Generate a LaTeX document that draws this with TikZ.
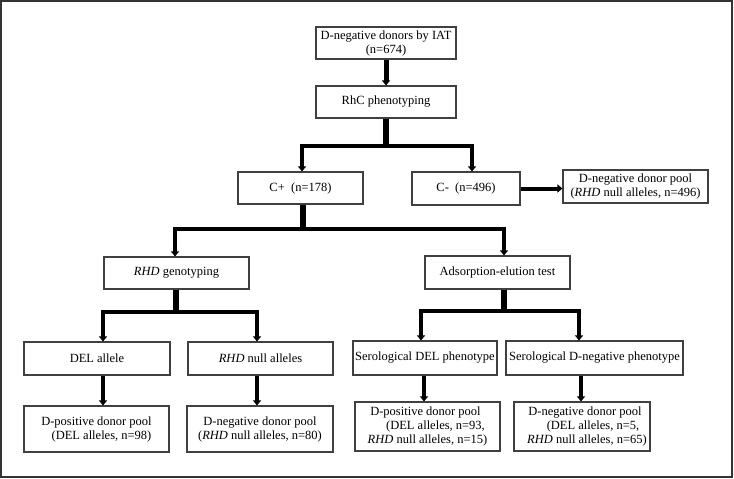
\documentclass[tikz,border=0pt]{standalone}
\usepackage{fontspec}
\setmainfont{Liberation Serif}
\usetikzlibrary{arrows.meta}
\begin{document}
\begin{tikzpicture}[x=1pt,y=-1pt,
  box/.style={draw=black!75,line width=1.1pt,fill=white,align=center,inner sep=1pt,font=\fontsize{12.5}{14}\selectfont},
  stem/.style={line width=6pt},
  branch/.style={line width=4pt,line join=miter,-{Triangle[length=5pt,width=8pt]}},
  arr/.style={line width=4pt,-{Triangle[length=5pt,width=8pt]}}]
\useasboundingbox (0,0) rectangle (734,479);
\draw[black!80,line width=1.5pt] (1,1) rectangle (732,477);
\node[box,minimum width=140pt,minimum height=32pt] (top) at (386,43) {D-negative donors by IAT\\(n=674)};
\node[box,minimum width=140pt,minimum height=32pt] (rhc) at (386,102) {RhC phenotyping};
\node[box,minimum width=125pt,minimum height=32pt] (cplus) at (300.5,188) {C+\ \ (n=178)};
\node[box,minimum width=108pt,minimum height=33pt] (cminus) at (466,188.5) {C-\ \ (n=496)};
\node[box,minimum width=145pt,minimum height=33pt] (p496) at (635.5,186.5) {D-negative donor pool\\(\textit{RHD} null alleles, n=496)};
\node[box,minimum width=145pt,minimum height=32pt] (rhdg) at (176.5,273) {\textit{RHD} genotyping};
\node[box,minimum width=145pt,minimum height=33pt] (ads) at (497.5,272.5) {Adsorption-elution test};
\node[box,minimum width=146pt,minimum height=33pt] (del) at (97,358.5) {DEL allele};
\node[box,minimum width=145pt,minimum height=33pt] (rnull) at (260.5,358.5) {\textit{RHD} null alleles};
\node[box,minimum width=144pt,minimum height=34pt] (serdel) at (425,358) {Serological DEL phenotype};
\node[box,minimum width=177pt,minimum height=34pt] (serneg) at (594.5,358) {Serological D-negative phenotype};
\node[box,minimum width=145pt,minimum height=46pt] (p98) at (96.5,429) {D-positive donor pool\\\hspace*{10pt}(DEL alleles, n=98)};
\node[box,minimum width=146pt,minimum height=46pt] (p80) at (260,429) {D-negative donor pool\\(\textit{RHD} null alleles, n=80)};
\node[box,minimum width=145pt,minimum height=49pt] (p93) at (427.5,426.5) {D-positive donor pool\hspace*{4pt}\\\hspace*{16pt}(DEL alleles, n=93,\\\textit{RHD} null alleles, n=15)};
\node[box,minimum width=136pt,minimum height=49pt] (p65) at (582,426.5) {\hspace*{6pt}D-negative donor pool\\\hspace*{22pt}(DEL alleles, n=5,\\\hspace*{10pt}\textit{RHD} null alleles, n=65)};
% connectors
\draw[arr,line width=5pt] (top.south) -- (rhc.north);
\draw[stem] (rhc.south) -- (rhc.south |- 0,146) coordinate (s1);
\draw[branch] (s1) -| (302,0 |- cplus.north);
\draw[branch] (s1) -| (472,0 |- cminus.north);
\draw[arr] (cminus.east) -- (p496.west |- cminus.east);
\draw[stem] (cplus.south -| 303,0) -- (303,229) coordinate (s2);
\draw[branch] (s2) -| (175,0 |- rhdg.north);
\draw[branch] (s2) -| (504,0 |- ads.north);
\draw[stem] (rhdg.south -| 176,0) -- (176,312) coordinate (s3);
\draw[branch] (s3) -| (103,0 |- del.north);
\draw[branch] (s3) -| (257,0 |- rnull.north);
\draw[stem] (ads.south -| 504,0) -- (504,311) coordinate (s4);
\draw[branch] (s4) -| (421,0 |- serdel.north);
\draw[branch] (s4) -| (579,0 |- serneg.north);
\draw[arr] (del.south -| 103,0) -- (p98.north -| 103,0);
\draw[arr] (rnull.south -| 257,0) -- (p80.north -| 257,0);
\draw[arr] (serdel.south -| 424,0) -- (p93.north -| 424,0);
\draw[arr] (serneg.south -| 581,0) -- (p65.north -| 581,0);
\end{tikzpicture}
\end{document}
